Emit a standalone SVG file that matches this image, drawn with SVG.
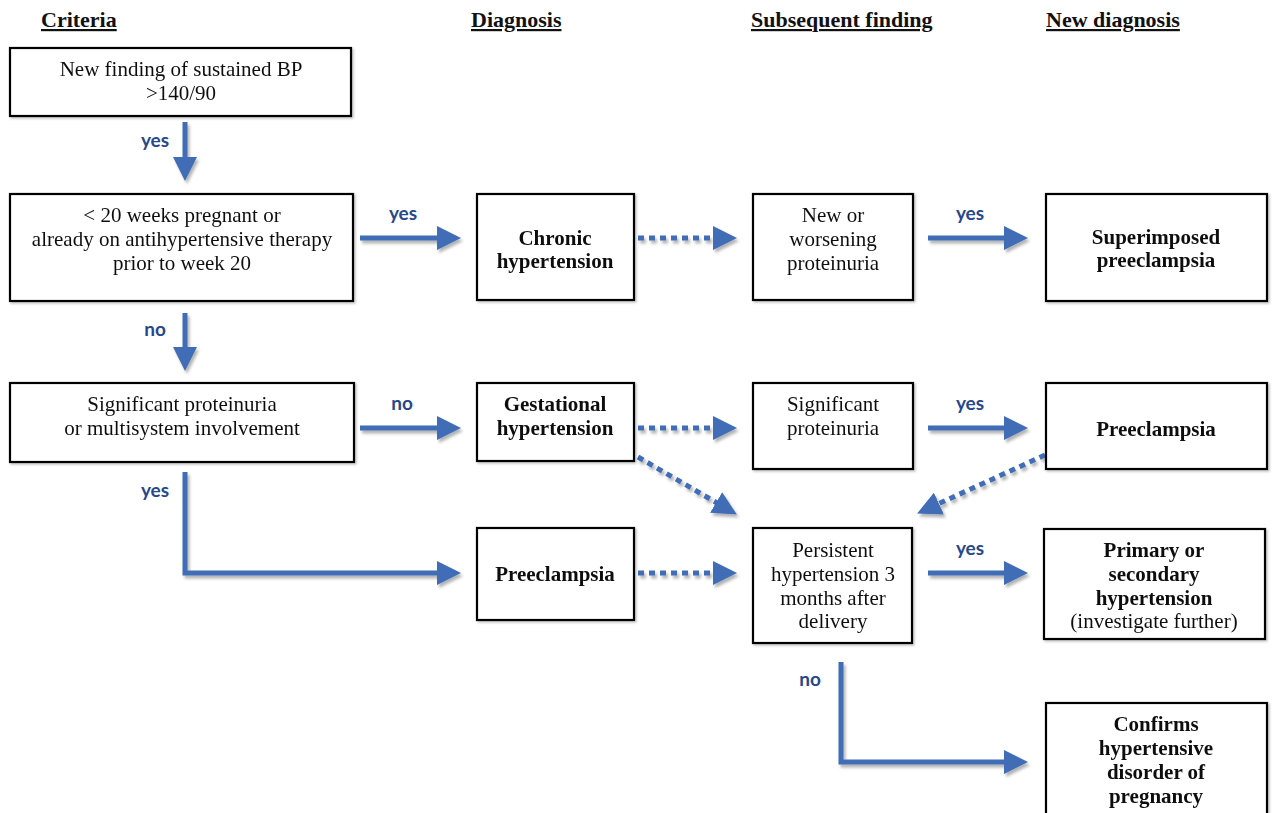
<svg xmlns="http://www.w3.org/2000/svg" width="1273" height="813" viewBox="0 0 1273 813">
<style>
  .box { fill: #fff; stroke: #000; stroke-width: 2.2; }
  .t { font-family: "Liberation Serif", "Times New Roman", serif; font-size: 21px; fill: #111; text-anchor: middle; }
  .b { font-weight: bold; }
  .h { font-family: "Liberation Serif", "Times New Roman", serif; font-size: 22px; font-weight: bold; fill: #111; text-decoration: underline; }
  .lbl { font-family: Lato, "Open Sans", sans-serif; font-size: 19px; font-weight: bold; fill: #27488a; text-anchor: middle; }
  .solid { fill: none; stroke: #3f6db6; stroke-width: 5; marker-end: url(#ah); }
  .elbow { fill: none; stroke: #3f6db6; stroke-width: 5; stroke-linejoin: miter; marker-end: url(#ah); }
  .dot { fill: none; stroke: #3f6db6; stroke-width: 5; stroke-dasharray: 6 5; marker-end: url(#ah); }
</style>
<defs>
  <marker id="ah" markerUnits="userSpaceOnUse" viewBox="0 0 24 24" refX="1" refY="12" markerWidth="24" markerHeight="24" orient="auto">
    <path d="M0,0 L24,12 L0,24 z" fill="#3f6db6"/>
  </marker>
  <filter id="sh" x="-20%" y="-20%" width="140%" height="160%">
    <feDropShadow dx="2" dy="3" stdDeviation="1.8" flood-color="#000" flood-opacity="0.3"/>
  </filter>
  <filter id="bsh" x="-5%" y="-5%" width="110%" height="115%">
    <feDropShadow dx="1.5" dy="1.5" stdDeviation="1" flood-color="#000" flood-opacity="0.25"/>
  </filter>
</defs>
<rect width="1273" height="813" fill="#fff"/>

<g id="headers">
  <text class="h" x="41" y="27">Criteria</text>
  <text class="h" x="471" y="27">Diagnosis</text>
  <text class="h" x="751" y="27">Subsequent finding</text>
  <text class="h" x="1046" y="27">New diagnosis</text>
</g>

<g id="connectors" filter="url(#sh)">
  <line class="solid" x1="185" y1="122" x2="185" y2="158"/>
  <line class="solid" x1="185" y1="313" x2="185" y2="348"/>
  <line class="solid" x1="360" y1="238" x2="438" y2="238"/>
  <line class="solid" x1="360" y1="428" x2="438" y2="428"/>
  <path class="elbow" d="M185,472 L185,573 L438,573"/>
  <line class="dot" x1="638" y1="238" x2="714" y2="238"/>
  <line class="dot" x1="638" y1="428" x2="714" y2="428"/>
  <line class="dot" x1="638" y1="573" x2="714" y2="573"/>
  <line class="dot" x1="638" y1="457" x2="717" y2="503"/>
  <line class="dot" x1="1045" y1="455" x2="938" y2="504"/>
  <line class="solid" x1="928" y1="238" x2="1005" y2="238"/>
  <line class="solid" x1="928" y1="428" x2="1005" y2="428"/>
  <line class="solid" x1="928" y1="573" x2="1005" y2="573"/>
  <path class="elbow" d="M841,662 L841,762 L1005,762"/>
</g>

<g id="labels">
  <text class="lbl" x="155" y="147">yes</text>
  <text class="lbl" x="403" y="220">yes</text>
  <text class="lbl" x="155" y="336">no</text>
  <text class="lbl" x="402" y="410">no</text>
  <text class="lbl" x="155" y="497">yes</text>
  <text class="lbl" x="970" y="220">yes</text>
  <text class="lbl" x="970" y="410">yes</text>
  <text class="lbl" x="970" y="555">yes</text>
  <text class="lbl" x="810" y="686">no</text>
</g>

<g id="n-bp" filter="url(#bsh)">
  <rect class="box" x="10" y="48" width="341" height="68"/>
  <text class="t" x="181" y="76">New finding of sustained BP</text>
  <text class="t" x="181" y="100">&gt;140/90</text>
</g>
<g id="n-20weeks" filter="url(#bsh)">
  <rect class="box" x="10" y="194" width="343" height="107"/>
  <text class="t" x="182" y="222">&lt; 20 weeks pregnant or</text>
  <text class="t" x="182" y="246">already on antihypertensive therapy</text>
  <text class="t" x="182" y="270">prior to week 20</text>
</g>
<g id="n-chronic" filter="url(#bsh)">
  <rect class="box" x="477" y="194" width="157" height="106"/>
  <text class="t b" x="555" y="245">Chronic</text>
  <text class="t b" x="555" y="268">hypertension</text>
</g>
<g id="n-worsening" filter="url(#bsh)">
  <rect class="box" x="753" y="194" width="160" height="106"/>
  <text class="t" x="833" y="222">New or</text>
  <text class="t" x="833" y="246">worsening</text>
  <text class="t" x="833" y="270">proteinuria</text>
</g>
<g id="n-superimposed" filter="url(#bsh)">
  <rect class="box" x="1046" y="194" width="221" height="107"/>
  <text class="t b" x="1156" y="244">Superimposed</text>
  <text class="t b" x="1156" y="267">preeclampsia</text>
</g>
<g id="n-significant" filter="url(#bsh)">
  <rect class="box" x="10" y="383" width="344" height="79"/>
  <text class="t" x="182" y="411">Significant proteinuria</text>
  <text class="t" x="182" y="435">or multisystem involvement</text>
</g>
<g id="n-gestational" filter="url(#bsh)">
  <rect class="box" x="477" y="383" width="157" height="78"/>
  <text class="t b" x="555" y="411">Gestational</text>
  <text class="t b" x="555" y="435">hypertension</text>
</g>
<g id="n-sigprot" filter="url(#bsh)">
  <rect class="box" x="753" y="383" width="160" height="86"/>
  <text class="t" x="833" y="411">Significant</text>
  <text class="t" x="833" y="435">proteinuria</text>
</g>
<g id="n-preeclampsia2" filter="url(#bsh)">
  <rect class="box" x="1046" y="383" width="221" height="86"/>
  <text class="t b" x="1156" y="436">Preeclampsia</text>
</g>
<g id="n-preeclampsia" filter="url(#bsh)">
  <rect class="box" x="477" y="528" width="157" height="92"/>
  <text class="t b" x="555" y="581">Preeclampsia</text>
</g>
<g id="n-persistent" filter="url(#bsh)">
  <rect class="box" x="753" y="528" width="159" height="115"/>
  <text class="t" x="833" y="557">Persistent</text>
  <text class="t" x="833" y="581">hypertension 3</text>
  <text class="t" x="833" y="605">months after</text>
  <text class="t" x="833" y="628">delivery</text>
</g>
<g id="n-primary" filter="url(#bsh)">
  <rect class="box" x="1044" y="529" width="221" height="110"/>
  <text class="t b" x="1154" y="557">Primary or</text>
  <text class="t b" x="1154" y="581">secondary</text>
  <text class="t b" x="1154" y="605">hypertension</text>
  <text class="t" x="1154" y="628">(investigate further)</text>
</g>
<g id="n-confirms" filter="url(#bsh)">
  <rect class="box" x="1046" y="703" width="221" height="120"/>
  <text class="t b" x="1156" y="731">Confirms</text>
  <text class="t b" x="1156" y="755">hypertensive</text>
  <text class="t b" x="1156" y="779">disorder of</text>
  <text class="t b" x="1156" y="803">pregnancy</text>
</g>
</svg>
